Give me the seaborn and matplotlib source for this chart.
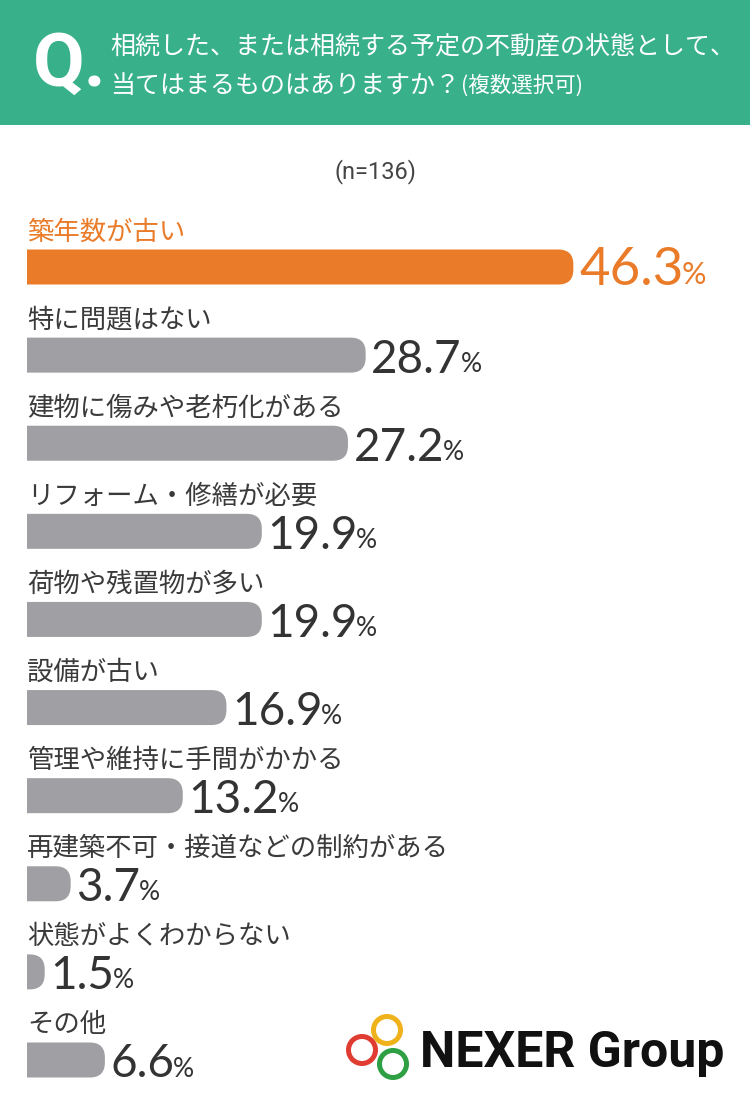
import matplotlib
matplotlib.use("Agg")
import matplotlib.pyplot as plt
from matplotlib.patches import FancyBboxPatch, Rectangle, Circle
import seaborn as sns

# ── Data ──────────────────────────────────────────────────────────────────────
labels = ["築年数が古い", "特に問題はない", "建物に傷みや老朽化がある",
          "リフォーム・修繕が必要", "荷物や残置物が多い", "設備が古い",
          "管理や維持に手間がかかる", "再建築不可・接道などの制約がある",
          "状態がよくわからない", "その他"]
values = [46.3, 28.7, 27.2, 19.9, 19.9, 16.9, 13.2, 3.7, 1.5, 6.6]
title_line1 = "相続した、または相続する予定の不動産の状態として、"
title_line2 = "当てはまるものはありますか？"
title_note = "(複数選択可)"
sample_note = "(n=136)"

# ── Style ─────────────────────────────────────────────────────────────────────
GREEN, ORANGE, GRAY = "#38B08A", "#E97B29", "#A0A0A4"
TEXT = "#3A3A3A"
W, H = 750, 1110
PX_PER_PCT = 11.8      # horizontal pixels per percent
ROW_PX = 88.1          # pixels between rows
BAR_PX = 35            # bar thickness in pixels
RADIUS_PX = 15

sns.set_style("white")
plt.rcParams["font.family"] = ["Noto Sans CJK JP", "DejaVu Sans"]

fig = plt.figure(figsize=(W / 100, H / 100), dpi=100, facecolor="white")

# ── Bars ──────────────────────────────────────────────────────────────────────
ax_top, ax_bot = 190, 1100
ax = fig.add_axes([27 / W, 1 - ax_bot / H, (W - 27) / W, (ax_bot - ax_top) / H])
colors = [ORANGE] + [GRAY] * (len(values) - 1)
bar_h = BAR_PX / ROW_PX
sns.barplot(x=values, y=labels, hue=labels, palette=colors, legend=False,
            orient="h", width=bar_h, saturation=1, ax=ax)
ax.set_xlim(0, (W - 27) / PX_PER_PCT)
ax.set_ylim(len(values) - 1 + (ax_bot - 1060) / ROW_PX, -(267 - ax_top) / ROW_PX)
ax.axis("off")

# rounded right ends (left corners clipped by the axes at x=0)
r = RADIUS_PX / PX_PER_PCT
for p in list(ax.patches):
    x, y = p.get_xy()
    w, h = p.get_width(), p.get_height()
    p.set_visible(False)
    ax.add_patch(FancyBboxPatch((x - r, y), w + r, h,
                                boxstyle=f"round,pad=0,rounding_size={r}",
                                mutation_aspect=PX_PER_PCT / ROW_PX,
                                facecolor=p.get_facecolor(), edgecolor="none"))

for i, (lab, v) in enumerate(zip(labels, values)):
    c = ORANGE if i == 0 else TEXT
    ax.text(0, i - 0.40, lab, fontsize=19, color=c, va="center", ha="left")
    big, small = (38, 22) if i == 0 else (33, 19)
    num_c = ORANGE if i == 0 else "#333333"
    t = ax.annotate(f"{v:.1f}", xy=(v, i + bar_h / 2), xytext=(4, 0),
                    textcoords="offset points", va="baseline", ha="left",
                    family="Lato", fontsize=big, color=num_c)
    ax.annotate("%", xy=(1, 0), xycoords=t, xytext=(-1, 0.2 * (big - small)),
                textcoords="offset points", va="bottom", ha="left",
                family="Lato", fontsize=small, color=num_c)

# ── Header ────────────────────────────────────────────────────────────────────
fig.patches.append(Rectangle((0, 1 - 125 / H), 1, 125 / H, transform=fig.transFigure,
                             facecolor=GREEN, edgecolor="none", zorder=-1))
fig.text(33 / W, 1 - 66 / H, "Q.", family="Roboto", fontweight="bold",
         fontsize=54, color="white", va="center", ha="left")
fig.text(110 / W, 1 - 47 / H, title_line1, fontsize=18, color="white",
         va="center", ha="left")
t2 = fig.text(110 / W, 1 - 86 / H, title_line2, fontsize=18, color="white",
              va="center", ha="left")
ax.annotate(title_note, xy=(1, 0.5), xycoords=t2, xytext=(1, 0),
            textcoords="offset points", va="center", ha="left",
            fontsize=15.5, color="white", annotation_clip=False)

fig.text(0.5, 1 - 172 / H, sample_note, family="Roboto", fontsize=17,
         color="#444444", ha="center", va="center")

# ── Logo ──────────────────────────────────────────────────────────────────────
for cx, cy, col in [(387, 1030, "#F0B21A"), (362, 1050, "#E03C31"), (393, 1064, "#2EA043")]:
    fig.patches.append(Circle((cx / 100, (H - cy) / 100), 0.135,
                              transform=fig.dpi_scale_trans, fill=False,
                              edgecolor=col, linewidth=3.6))
fig.text(420 / W, 1 - 1067 / H, "NEXER Group", family="Roboto", fontweight="bold",
         fontsize=36, color="#111111", va="baseline", ha="left")

fig.savefig("out.png", dpi=100, facecolor="white")
